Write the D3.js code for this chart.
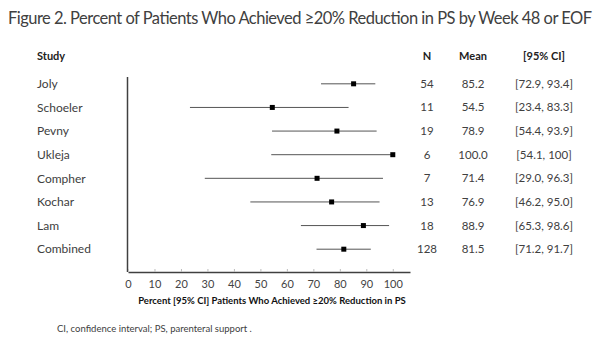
<!DOCTYPE html>
<head>
  <meta charset='utf-8'>
  <script src='https://d3js.org/d3.v7.min.js'></script>
  <style>
    body { margin: 0; background: #fff; }
    text { font-family: Lato, 'Open Sans', sans-serif; fill: #404040; }
    .axis-bottom .domain { stroke: #404040; stroke-width: 1.5; }
    .axis-bottom .tick line { stroke: #bbb; }
  </style>
</head>

<body>
  <script>

const studies = ['Joly', 'Schoeler', 'Pevny', 'Ukleja', 'Compher', 'Kochar', 'Lam', 'Combined'];
const nValues = [54, 11, 19, 6, 7, 13, 18, 128];
const means = [85.2, 54.5, 78.9, 100.0, 71.4, 76.9, 88.9, 81.5];
const lower = [72.9, 23.4, 54.4, 54.1, 29.0, 46.2, 65.3, 71.2];
const upper = [93.4, 83.3, 93.9, 100, 96.3, 95.0, 98.6, 91.7];
const meanLabels = ['85.2', '54.5', '78.9', '100.0', '71.4', '76.9', '88.9', '81.5'];
const ciLabels = ['[72.9, 93.4]', '[23.4, 83.3]', '[54.4, 93.9]', '[54.1, 100]', '[29.0, 96.3]', '[46.2, 95.0]', '[65.3, 98.6]', '[71.2, 91.7]'];
const xTicks = [0, 10, 20, 30, 40, 50, 60, 70, 80, 90, 100];

const width = 600, height = 343;

const svg = d3.select('body').append('svg')
  .attr('width', width).attr('height', height);

const x = d3.scaleLinear().domain([0, 106.5]).range([128, 410]);
const y = d3.scaleBand().domain(studies).range([72, 261]).paddingInner(0);

// title
svg.append('text')
  .attr('x', 300).attr('y', 24)
  .attr('text-anchor', 'middle')
  .attr('font-size', 16.5)
  .attr('textLength', 584)
  .text('Figure 2. Percent of Patients Who Achieved ≥20% Reduction in PS by Week 48 or EOF');

// headers
const headers = [
  {t: 'Study', x: 37, a: 'start'},
  {t: 'N', x: 427, a: 'middle'},
  {t: 'Mean', x: 473, a: 'middle'},
  {t: '[95% CI]', x: 544, a: 'middle'}
];
svg.selectAll('.hdr').data(headers).enter().append('text')
  .attr('x', d => d.x).attr('y', 60)
  .attr('text-anchor', d => d.a)
  .attr('font-size', 11)
  .attr('font-weight', 'bold')
  .style('fill', '#222')
  .text(d => d.t);

const rows = svg.append('g').selectAll('g')
  .data(studies.map((s, i) => ({s, i})))
  .enter().append('g')
  .attr('transform', d => `translate(0,${y(d.s) + y.bandwidth() / 2})`);

rows.append('text').attr('x', 37).attr('dy', '0.35em').attr('font-size', 12).text(d => d.s);
rows.append('text').attr('x', 427).attr('dy', '0.35em').attr('text-anchor', 'middle').attr('font-size', 11.5).text(d => nValues[d.i]);
rows.append('text').attr('x', 473).attr('dy', '0.35em').attr('text-anchor', 'middle').attr('font-size', 11.5).text(d => meanLabels[d.i]);
rows.append('text').attr('x', 544).attr('dy', '0.35em').attr('text-anchor', 'middle').attr('font-size', 11.5).text(d => ciLabels[d.i]);

rows.append('line')
  .attr('x1', d => x(lower[d.i])).attr('x2', d => x(upper[d.i]))
  .attr('stroke', '#555').attr('stroke-width', 1);

rows.append('rect')
  .attr('x', d => x(means[d.i]) - 2.5).attr('y', -2.5)
  .attr('width', 5).attr('height', 5)
  .attr('fill', '#000');

// axes
svg.append('line')
  .attr('x1', 127.5).attr('x2', 127.5).attr('y1', 77).attr('y2', 272)
  .attr('stroke', '#404040').attr('stroke-width', 1.5);

const ax = svg.append('g')
  .attr('class', 'axis-bottom')
  .attr('transform', 'translate(0,272)')
  .call(d3.axisBottom(x).tickValues(xTicks).tickSizeInner(-3).tickSizeOuter(0).tickPadding(8));
ax.selectAll('.tick text').attr('font-size', 11).style('font-family', 'Lato, sans-serif').style('fill', '#444');

svg.append('text')
  .attr('x', 272).attr('y', 304)
  .attr('text-anchor', 'middle')
  .attr('font-size', 9.5)
  .attr('font-weight', 'bold')
  .style('fill', '#111')
  .text('Percent [95% CI] Patients Who Achieved ≥20% Reduction in PS');

svg.append('text')
  .attr('x', 57).attr('y', 332)
  .attr('font-size', 9.5)
  .text('CI, confidence interval; PS, parenteral support .');

  </script>
</body>
